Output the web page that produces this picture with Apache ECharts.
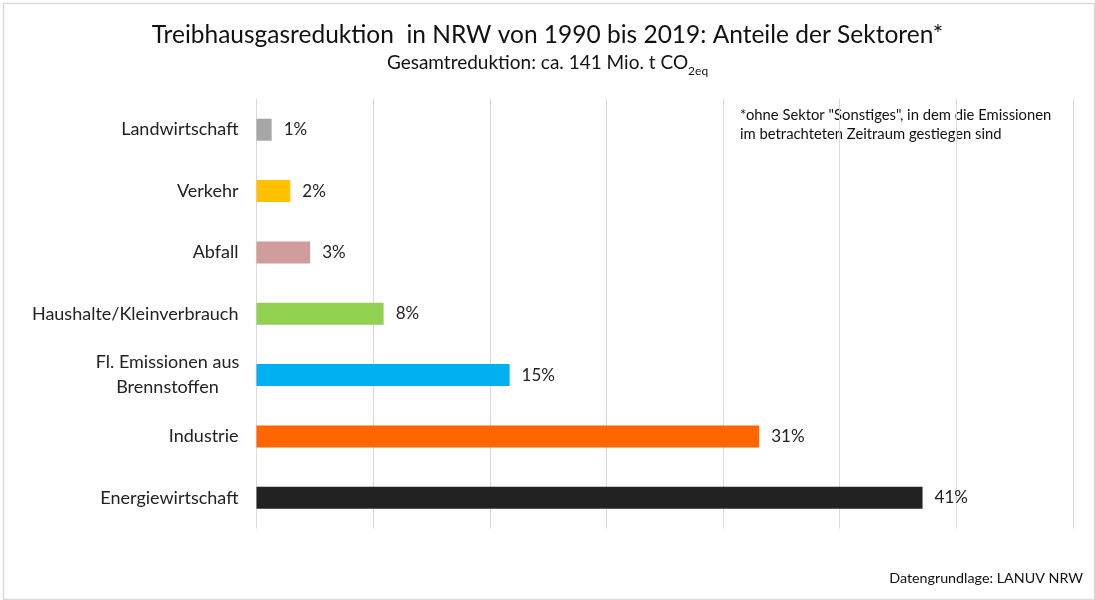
<!DOCTYPE html>
<html>
<head>
<meta charset="utf-8">
<script src="https://cdn.jsdelivr.net/npm/echarts@6/dist/echarts.min.js"></script>
<style>html,body{margin:0;padding:0;background:#fff}#c{width:1095px;height:600px}</style>
</head>
<body>
<div id="c"></div>
<script>
var categories = ['Landwirtschaft', 'Verkehr', 'Abfall', 'Haushalte/Kleinverbrauch', 'Fl. Emissionen aus\nBrennstoffen', 'Industrie', 'Energiewirtschaft'];
var values = [1.3, 2.9, 4.6, 10.9, 21.7, 43.1, 57.1];
var shareLabels = ['1%', '2%', '3%', '8%', '15%', '31%', '41%'];
var colors = ['#a6a6a6', '#ffc000', '#d09c9c', '#92d050', '#00b0f0', '#ff6600', '#222222'];
var xTicks = [0, 10, 20, 30, 40, 50, 60, 70];

var FONT = 'Lato';
var chart = echarts.init(document.getElementById('c'), null, {renderer: 'canvas'});
chart.setOption({
  backgroundColor: '#ffffff',
  animation: false,
  textStyle: {fontFamily: FONT},
  title: [{
    text: 'Treibhausgasreduktion  in NRW von 1990 bis 2019: Anteile der Sektoren*',
    left: 'center', top: 18,
    textStyle: {fontFamily: FONT, fontSize: 24.5, fontWeight: 'normal', color: '#111'}
  }, {
    text: '{m|Gesamtreduktion: ca. 141 Mio. t CO}{s|2eq}',
    left: 'center', top: 47,
    textStyle: {
      fontWeight: 'normal',
      rich: {
        m: {fontFamily: FONT, fontSize: 19, fontWeight: 'normal', color: '#111', lineHeight: 22},
        s: {fontFamily: FONT, fontSize: 12, fontWeight: 'normal', color: '#111', lineHeight: 12, verticalAlign: 'bottom', padding: [0, 0, -3, 0]}
      }
    }
  }],
  graphic: [{
    type: 'rect', left: 1, top: 1, z: -10, silent: true,
    shape: {width: 1091, height: 596},
    style: {fill: 'none', stroke: '#d9d9d9', lineWidth: 1.5}
  }, {
    type: 'text', left: 740, top: 106,
    style: {text: '*ohne Sektor "Sonstiges", in dem die Emissionen\nim betrachteten Zeitraum gestiegen sind',
      font: '14.8px ' + FONT, fill: '#111', lineHeight: 19}
  }, {
    type: 'text', right: 12, top: 571,
    style: {text: 'Datengrundlage: LANUV NRW', font: '14.3px ' + FONT, fill: '#111'}
  }],
  grid: {left: 256.5, right: 22, top: 99, bottom: 71.5, containLabel: false},
  xAxis: {
    type: 'value', min: xTicks[0], max: xTicks[xTicks.length - 1], interval: 10,
    axisLine: {show: false}, axisTick: {show: false}, axisLabel: {show: false},
    splitLine: {show: true, lineStyle: {color: '#d9d9d9', width: 1}}
  },
  yAxis: {
    type: 'category', data: categories, inverse: true,
    axisLine: {show: false}, axisTick: {show: false},
    axisLabel: {
      fontFamily: FONT, fontSize: 18, color: '#222', margin: 18,
      formatter: function (v) {
        if (v.indexOf('\n') >= 0) {
          return v.split('\n').map(function (l) { return '{c|' + l + '}'; }).join('\n');
        }
        return v;
      },
      rich: {c: {fontFamily: FONT, fontSize: 18, color: '#222', width: 142, align: 'center', lineHeight: 25}}
    }
  },
  series: [{
    type: 'bar', barWidth: 22,
    data: values.map(function (v, i) { return {value: v, itemStyle: {color: colors[i]}}; }),
    label: {
      show: true, position: 'right', distance: 12,
      fontFamily: FONT, fontSize: 17, color: '#222',
      formatter: function (p) { return shareLabels[p.dataIndex]; }
    }
  }]
});
</script>
</body>
</html>
